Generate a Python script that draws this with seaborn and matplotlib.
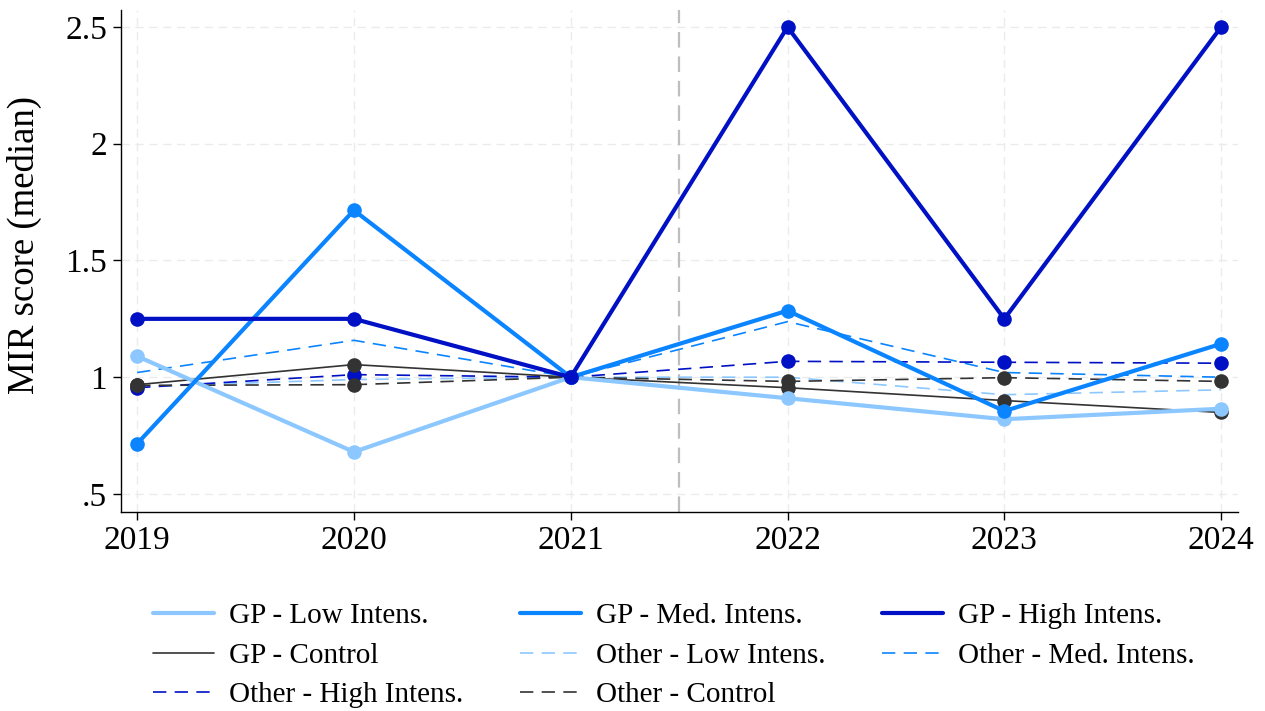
import matplotlib
matplotlib.use("Agg")
import matplotlib.pyplot as plt
import seaborn as sns
import pandas as pd

# MIR median scores by year and group
years = [2019, 2020, 2021, 2022, 2023, 2024]

gp_low = [1.09, 0.68, 1.00, 0.91, 0.82, 0.865]
gp_med = [0.715, 1.715, 1.00, 1.285, 0.855, 1.143]
gp_high = [1.25, 1.25, 1.00, 2.50, 1.25, 2.50]
gp_control = [0.968, 1.054, 1.00, 0.955, 0.90, 0.849]
other_low = [0.96, 0.99, 1.00, 1.00, 0.925, 0.946]
other_med = [1.02, 1.158, 1.00, 1.238, 1.02, 1.00]
other_high = [0.955, 1.011, 1.00, 1.068, 1.064, 1.060]
other_control = [0.965, 0.968, 1.00, 0.982, 0.998, 0.982]

series_labels = [
    "GP - Low Intens.", "GP - Med. Intens.", "GP - High Intens.",
    "GP - Control", "Other - Low Intens.", "Other - Med. Intens.",
    "Other - High Intens.", "Other - Control",
]
y_ticks = [0.5, 1.0, 1.5, 2.0, 2.5]
y_tick_labels = [".5", "1", "1.5", "2", "2.5"]

light = "#8CC8FF"
med = "#0A84FF"
dark = "#0010C4"
gray = "#333333"

values = [gp_low, gp_med, gp_high, gp_control,
          other_low, other_med, other_high, other_control]
# color, line width, linestyle, marker, zorder
styles = [
    (light, 3.0, "-", "o", 6),
    (med, 3.0, "-", "o", 7),
    (dark, 3.0, "-", "o", 8),
    (gray, 1.2, "-", "o", 5),
    (light, 1.2, (0, (8, 5)), None, 3),
    (med, 1.2, (0, (8, 5)), None, 3),
    (dark, 1.2, (0, (8, 5)), "o", 3),
    (gray, 1.2, (0, (8, 5)), "o", 4),
]

sns.set_style("ticks")
plt.rcParams["font.family"] = ["Liberation Serif", "DejaVu Serif"]
plt.rcParams["text.color"] = "black"
plt.rcParams["xtick.color"] = "black"
plt.rcParams["ytick.color"] = "black"
plt.rcParams["axes.labelcolor"] = "black"
FS = 24

fig = plt.figure(figsize=(12.65, 7.11), dpi=100)
ax = fig.add_axes([0.0957, 0.280, 0.883, 0.706])

for y in y_ticks:
    ax.axhline(y, color="#EBEBEB", lw=1.0, ls=(0, (6, 4)), zorder=0)
for x in years:
    ax.axvline(x, color="#EBEBEB", lw=1.0, ls=(0, (6, 4)), zorder=0)
ax.axvline(2021.5, color="#BEBEBE", lw=1.6, ls=(0, (7, 4)), zorder=1)

handles = []
for lab, vals, (c, lw, ls, mk, z) in zip(series_labels, values, styles):
    df = pd.DataFrame({"year": years, "score": vals})
    sns.lineplot(data=df, x="year", y="score", ax=ax, color=c, lw=lw,
                 linestyle=ls, marker=mk, markersize=10.5, markeredgewidth=0,
                 zorder=z, legend=False)
    handles.append(matplotlib.lines.Line2D([], [], color=c, lw=lw, linestyle=ls))

ax.set_xlim(2018.926, 2024.078)
ax.set_ylim(0.423, 2.573)
ax.set_xticks(years)
ax.set_xticklabels([str(y) for y in years], fontsize=FS)
ax.set_yticks(y_ticks)
ax.set_yticklabels(y_tick_labels, fontsize=FS)
ax.set_xlabel("")
ax.set_ylabel("MIR score (median)", fontsize=26.5)
ax.yaxis.set_label_coords(-0.071, 0.532)
ax.tick_params(axis="both", direction="out", length=6, width=1.0,
               color="black", pad=4)
for side in ["top", "right"]:
    ax.spines[side].set_visible(False)
for side in ["left", "bottom"]:
    ax.spines[side].set_color("black")
    ax.spines[side].set_linewidth(1.0)

# legend entries read row by row across three columns
order = [0, 3, 6, 1, 4, 7, 2, 5]
fig.legend([handles[i] for i in order], [series_labels[i] for i in order],
           loc="upper left", bbox_to_anchor=(153 / 1265, 1 - 603 / 711),
           ncol=3, frameon=False, fontsize=21, handlelength=2.1,
           handletextpad=0.5, columnspacing=1.95, labelspacing=0.45,
           borderpad=0, borderaxespad=0)

fig.savefig("out.png", dpi=100)
